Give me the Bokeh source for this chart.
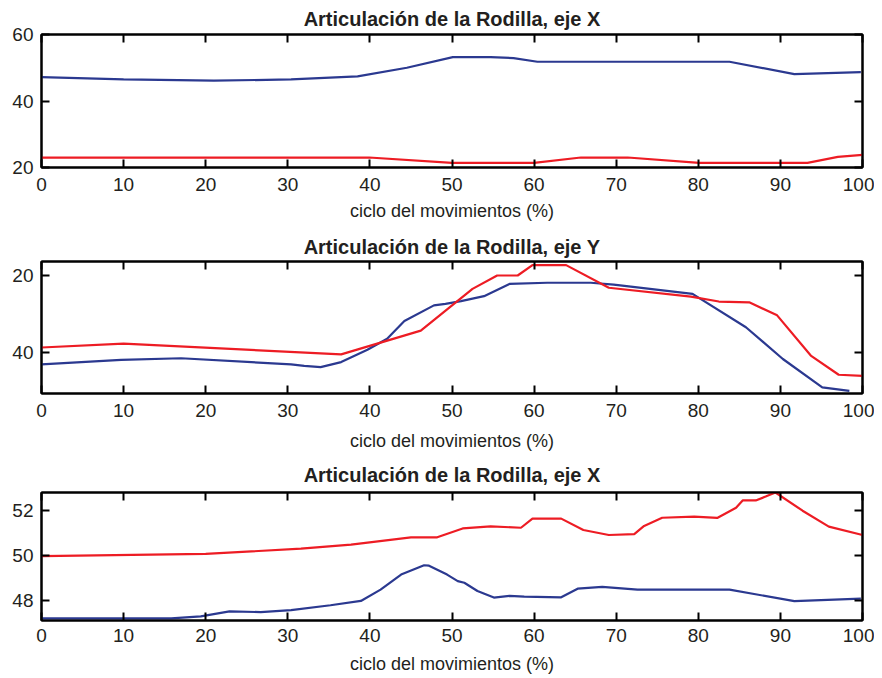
from bokeh.plotting import figure
from bokeh.layouts import column
from bokeh.models import Range1d, LinearAxis, FixedTicker, Title
from bokeh.embed import file_html
from bokeh.resources import INLINE

# ---------------- data ----------------
x_ticks = [0, 10, 20, 30, 40, 50, 60, 70, 80, 90, 100]
x_label = "ciclo del movimientos (%)"

title1 = "Articulación de la Rodilla, eje X"
title2 = "Articulación de la Rodilla, eje Y"
title3 = "Articulación de la Rodilla, eje X"

y_ticks1 = [20, 40, 60]
y_ticks2 = [20, 40]
y_ticks3 = [48, 50, 52]

# plot 1
p1_blue_x = [0, 10, 21, 30.4, 38.5, 44.5, 50.1, 54.7, 57.5, 60.4, 83.8, 91.7, 99.8]
p1_blue_y = [47.2, 46.5, 46.1, 46.5, 47.4, 50.0, 53.2, 53.2, 52.9, 51.8, 51.8, 48.1, 48.7]
p1_red_x = [0, 39.9, 50.0, 60.0, 65.7, 71.4, 80.1, 93.3, 97.0, 100]
p1_red_y = [23.0, 23.0, 21.4, 21.4, 23.0, 23.0, 21.4, 21.4, 23.2, 23.8]

# plot 2
p2_blue_x = [0, 9.7, 17, 30.4, 32, 34.0, 36.5, 39.7, 42.1, 44.2, 47.8, 49.2, 51.1,
             53.9, 57.0, 61.6, 66.9, 69.7, 79.3, 85.8, 90.3, 95.1, 98.4]
p2_blue_y = [43.2, 42.0, 41.6, 43.2, 43.6, 43.9, 42.6, 39.4, 36.5, 31.9, 27.8, 27.4, 26.7,
             25.4, 22.2, 21.9, 21.9, 22.4, 24.8, 33.5, 41.8, 49.2, 50.1]
p2_red_x = [0, 10, 36.5, 46.2, 52.5, 55.5, 58.0, 59.8, 63.9, 69.1, 79.1, 82.5, 86.2,
            89.6, 93.7, 97.1, 100]
p2_red_y = [38.8, 37.8, 40.6, 34.4, 23.5, 20.0, 20.0, 17.3, 17.3, 23.2, 25.5, 26.8, 27.0,
            30.4, 40.9, 45.9, 46.2]

# plot 3
p3_blue_x = [0, 15.8, 19.4, 22.9, 26.7, 30.4, 35.2, 38.9, 41.3, 43.8, 46.6, 47.2, 49.4,
             50.7, 51.5, 53.1, 55.1, 57.0, 58.8, 63.3, 65.3, 68.3, 72.6, 83.8, 91.7, 99.8]
p3_blue_y = [47.23, 47.23, 47.32, 47.54, 47.51, 47.6, 47.81, 48.0, 48.5, 49.16, 49.57, 49.55, 49.16,
             48.87, 48.8, 48.44, 48.15, 48.22, 48.19, 48.16, 48.54, 48.62, 48.5, 48.5, 47.99, 48.1]
p3_red_x = [0, 20, 31.6, 37.7, 45.0, 48.2, 51.3, 54.7, 58.4, 59.8, 63.3, 66.0, 69.1, 72.2,
            73.4, 75.6, 79.5, 82.3, 84.6, 85.4, 87.0, 88.2, 89.4, 92.7, 95.9, 100]
p3_red_y = [49.97, 50.07, 50.3, 50.48, 50.8, 50.8, 51.19, 51.28, 51.22, 51.62, 51.62, 51.12, 50.9, 50.94,
            51.3, 51.66, 51.71, 51.65, 52.1, 52.42, 52.42, 52.59, 52.77, 51.97, 51.27, 50.9]

BLUE = "#2b3990"
RED = "#ed1c24"
FONT = "Liberation Sans"
TXT = "#231f20"


def make(title, height, top, bottom, yr, yticks, series, t_off, tick_off, lab_off):
    p = figure(width=874, height=height, output_backend="svg", toolbar_location=None,
               x_range=Range1d(0, 100), y_range=Range1d(*yr),
               x_axis_location=None, y_axis_location=None, title=None,
               min_border_left=41, min_border_right=12,
               min_border_top=top, min_border_bottom=bottom)
    p.grid.visible = False
    p.outline_line_color = "black"
    p.outline_line_width = 2
    p.background_fill_color = "white"
    p.border_fill_color = "white"

    for loc in ["below", "above", "left", "right"]:
        ticks = x_ticks if loc in ("below", "above") else yticks
        ax = LinearAxis(ticker=FixedTicker(ticks=ticks))
        ax.major_tick_in = 8
        ax.major_tick_out = 0
        ax.minor_tick_in = 0
        ax.minor_tick_out = 0
        ax.axis_line_width = 2
        ax.axis_line_color = "black"
        ax.major_tick_line_width = 2
        ax.major_tick_line_color = "black"
        ax.major_label_text_font = FONT
        ax.major_label_text_color = TXT
        if loc in ("above", "right"):
            ax.major_label_text_font_size = "0px"
            ax.major_label_standoff = 0
            ax.major_label_overrides = {t: "" for t in ticks}
        else:
            ax.major_label_text_font_size = "19px"
            ax.major_label_standoff = 8
        if loc == "below":
            ax.axis_label = x_label
            ax.axis_label_text_font = FONT
            ax.axis_label_text_font_size = "18px"
            ax.axis_label_text_font_style = "normal"
            ax.axis_label_text_color = TXT
            ax.axis_label_standoff = lab_off
            ax.major_label_standoff = tick_off
        p.add_layout(ax, loc)

    t = Title(text=title, align="center", text_font=FONT, text_font_size="20px",
              text_font_style="bold", text_color=TXT, standoff=t_off)
    p.add_layout(t, "above")

    for xs, ys, c in series:
        p.line(xs, ys, line_color=c, line_width=2.2)
    return p


f1 = make(title1, 228, 34, 61, (20, 60), y_ticks1,
          [(p1_blue_x, p1_blue_y, BLUE), (p1_red_x, p1_red_y, RED)], 9, 10, 7)
f2 = make(title2, 227, 33, 62, (50.8, 16.35), y_ticks2,
          [(p2_blue_x, p2_blue_y, BLUE), (p2_red_x, p2_red_y, RED)], 7, 10, 11)
f3 = make(title3, 222, 36, 57, (47.14, 52.77), y_ticks3,
          [(p3_blue_x, p3_blue_y, BLUE), (p3_red_x, p3_red_y, RED)], 13, 8, 9)

layout = column(f1, f2, f3, spacing=0)
open("out.html", "w").write(file_html(layout, INLINE))
